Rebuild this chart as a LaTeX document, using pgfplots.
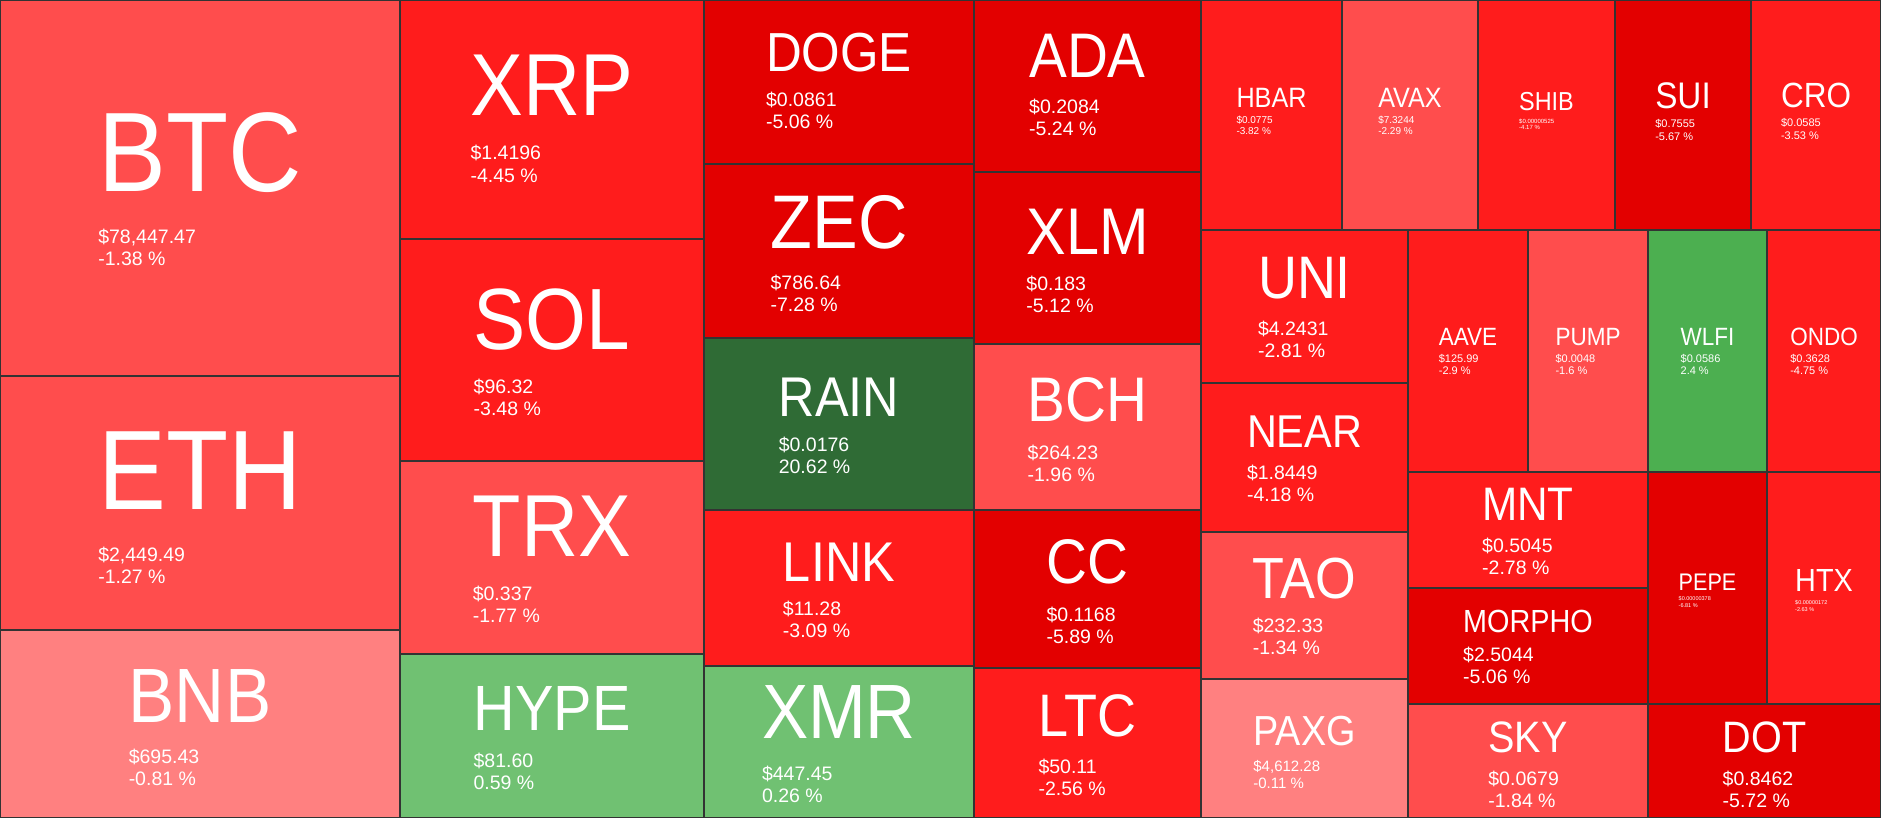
\documentclass[border=0pt]{standalone}
\usepackage{fontspec}
\setmainfont{Liberation Sans}
\newfontfamily\namefont{Liberation Sans}[FakeStretch=0.9]
\usepackage{pgfplots}
\pgfplotsset{compat=1.18}

\definecolor{edge}{HTML}{333333}
\definecolor{rLight}{HTML}{FF8080}
\definecolor{rMid}{HTML}{FF4D4D}
\definecolor{rStrong}{HTML}{FF1C1C}
\definecolor{rDeep}{HTML}{E30000}
\definecolor{gDark}{HTML}{2F6B35}
\definecolor{gLight}{HTML}{70C172}
\definecolor{gMid}{HTML}{4CAF50}

\pgfplotsset{tile/.style={fill=#1, draw=edge, line width=1.6pt}}

% cx yName yPrice yChange fsName fsSmall name price change
\newcommand{\tlnodes}[9]{%
  \node[anchor=base, inner sep=0pt, text=white, font=\namefont\fontsize{#5}{#5}\selectfont] (n#7) at (axis cs:#1,#2) {#7};
  \coordinate (p#7) at (axis cs:#1,#3);
  \coordinate (c#7) at (axis cs:#1,#4);
  \node[anchor=base west, inner sep=0pt, text=white, font=\fontsize{#6}{#6}\selectfont] at (n#7.west |- p#7) {#8};
  \node[anchor=base west, inner sep=0pt, text=white, font=\fontsize{#6}{#6}\selectfont] at (n#7.west |- c#7) {#9};
}
% cx cy fsName fsSmall gap name price change
\newcommand{\tl}[8]{%
  \pgfmathsetmacro\yN{#2-(0.716*#3+#5+1.846*#4)/2+0.716*#3}%
  \pgfmathsetmacro\yP{\yN+#5+0.716*#4}%
  \pgfmathsetmacro\yC{\yP+1.13*#4}%
  \edef\doit{\noexpand\tlnodes{#1}{\yN}{\yP}{\yC}{#3}{#4}{\unexpanded{#6}}{\unexpanded{#7}}{\unexpanded{#8}}}%
  \doit}

\begin{document}
\begin{tikzpicture}
\begin{axis}[
    width=1881pt, height=818pt, scale only axis,
    xmin=0, xmax=1881, ymin=0, ymax=818,
    y dir=reverse, hide axis,
]
% column 1
\addplot[tile=rMid] coordinates {(0,0)(400,0)(400,376)(0,376)} --cycle;
\addplot[tile=rMid] coordinates {(0,376)(400,376)(400,630)(0,630)} --cycle;
\addplot[tile=rLight] coordinates {(0,630)(400,630)(400,818)(0,818)} --cycle;
% column 2
\addplot[tile=rStrong] coordinates {(400,0)(704,0)(704,239)(400,239)} --cycle;
\addplot[tile=rStrong] coordinates {(400,239)(704,239)(704,461)(400,461)} --cycle;
\addplot[tile=rMid] coordinates {(400,461)(704,461)(704,654)(400,654)} --cycle;
\addplot[tile=gLight] coordinates {(400,654)(704,654)(704,818)(400,818)} --cycle;
% column 3
\addplot[tile=rDeep] coordinates {(704,0)(974,0)(974,164)(704,164)} --cycle;
\addplot[tile=rDeep] coordinates {(704,164)(974,164)(974,338)(704,338)} --cycle;
\addplot[tile=gDark] coordinates {(704,338)(974,338)(974,510)(704,510)} --cycle;
\addplot[tile=rStrong] coordinates {(704,510)(974,510)(974,666)(704,666)} --cycle;
\addplot[tile=gLight] coordinates {(704,666)(974,666)(974,818)(704,818)} --cycle;
% column 4
\addplot[tile=rDeep] coordinates {(974,0)(1201,0)(1201,172)(974,172)} --cycle;
\addplot[tile=rDeep] coordinates {(974,172)(1201,172)(1201,344)(974,344)} --cycle;
\addplot[tile=rMid] coordinates {(974,344)(1201,344)(1201,510)(974,510)} --cycle;
\addplot[tile=rDeep] coordinates {(974,510)(1201,510)(1201,668)(974,668)} --cycle;
\addplot[tile=rStrong] coordinates {(974,668)(1201,668)(1201,818)(974,818)} --cycle;
% top row right
\addplot[tile=rStrong] coordinates {(1201,0)(1342,0)(1342,230)(1201,230)} --cycle;
\addplot[tile=rMid] coordinates {(1342,0)(1478,0)(1478,230)(1342,230)} --cycle;
\addplot[tile=rStrong] coordinates {(1478,0)(1615,0)(1615,230)(1478,230)} --cycle;
\addplot[tile=rDeep] coordinates {(1615,0)(1751,0)(1751,230)(1615,230)} --cycle;
\addplot[tile=rStrong] coordinates {(1751,0)(1881,0)(1881,230)(1751,230)} --cycle;
% UNI column
\addplot[tile=rStrong] coordinates {(1201,230)(1408,230)(1408,383)(1201,383)} --cycle;
\addplot[tile=rStrong] coordinates {(1201,383)(1408,383)(1408,532)(1201,532)} --cycle;
\addplot[tile=rMid] coordinates {(1201,532)(1408,532)(1408,679)(1201,679)} --cycle;
\addplot[tile=rLight] coordinates {(1201,679)(1408,679)(1408,818)(1201,818)} --cycle;
% AAVE row
\addplot[tile=rStrong] coordinates {(1408,230)(1528,230)(1528,472)(1408,472)} --cycle;
\addplot[tile=rMid] coordinates {(1528,230)(1648,230)(1648,472)(1528,472)} --cycle;
\addplot[tile=gMid] coordinates {(1648,230)(1767,230)(1767,472)(1648,472)} --cycle;
\addplot[tile=rStrong] coordinates {(1767,230)(1881,230)(1881,472)(1767,472)} --cycle;
% lower right
\addplot[tile=rStrong] coordinates {(1408,472)(1648,472)(1648,588)(1408,588)} --cycle;
\addplot[tile=rDeep] coordinates {(1408,588)(1648,588)(1648,704)(1408,704)} --cycle;
\addplot[tile=rMid] coordinates {(1408,704)(1648,704)(1648,818)(1408,818)} --cycle;
\addplot[tile=rDeep] coordinates {(1648,472)(1767,472)(1767,704)(1648,704)} --cycle;
\addplot[tile=rStrong] coordinates {(1767,472)(1881,472)(1881,704)(1767,704)} --cycle;
\addplot[tile=rDeep] coordinates {(1648,704)(1881,704)(1881,818)(1648,818)} --cycle;

% labels
\tl{200}{188}{113}{19.5}{38}{BTC}{\$78,447.47}{-1.38 \%}
\tl{200}{506}{113}{19.5}{38}{ETH}{\$2,449.49}{-1.27 \%}
\tl{200}{726}{77}{19.5}{27}{BNB}{\$695.43}{-0.81 \%}
\tl{552}{117}{88}{19.5}{31}{XRP}{\$1.4196}{-4.45 \%}
\tl{552}{351}{87}{19.5}{30}{SOL}{\$96.32}{-3.48 \%}
\tl{552}{558}{88}{19.5}{30}{TRX}{\$0.337}{-1.77 \%}
\tl{552}{737}{64}{19.5}{23}{HYPE}{\$81.60}{0.59 \%}
\tl{839}{80}{55}{19.5}{21}{DOGE}{\$0.0861}{-5.06 \%}
\tl{839}{253}{76}{19.5}{27}{ZEC}{\$786.64}{-7.28 \%}
\tl{839}{425}{56}{19.5}{21}{RAIN}{\$0.0176}{20.62 \%}
\tl{839}{589}{56}{19.5}{20}{LINK}{\$11.28}{-3.09 \%}
\tl{839}{743}{77}{19.5}{28}{XMR}{\$447.45}{0.26 \%}
\tl{1087.5}{84}{63}{19.5}{22}{ADA}{\$0.2084}{-5.24 \%}
\tl{1087.5}{260}{66}{19.5}{22}{XLM}{\$0.183}{-5.12 \%}
\tl{1087.5}{429}{63}{19.5}{24}{BCH}{\$264.23}{-1.96 \%}
\tl{1087.5}{591}{63}{19.5}{24}{CC}{\$0.1168}{-5.89 \%}
\tl{1087.5}{745}{60}{19.5}{23}{LTC}{\$50.11}{-2.56 \%}
\tl{1271.5}{111}{28}{10}{9}{HBAR}{\$0.0775}{-3.82 \%}
\tl{1410}{111}{28}{10}{9}{AVAX}{\$7.3244}{-2.29 \%}
\tl{1546.5}{111}{26}{6}{8}{SHIB}{\$0.00000525}{-4.17 \%}
\tl{1683}{111}{37}{11}{12}{SUI}{\$0.7555}{-5.67 \%}
\tl{1816}{111}{35}{11}{11}{CRO}{\$0.0585}{-3.53 \%}
\tl{1304.5}{307}{60}{19.5}{23}{UNI}{\$4.2431}{-2.81 \%}
\tl{1304.5}{458}{46}{19.5}{18}{NEAR}{\$1.8449}{-4.18 \%}
\tl{1304.5}{606}{58}{19.5}{20}{TAO}{\$232.33}{-1.34 \%}
\tl{1304.5}{752}{42}{15}{15}{PAXG}{\$4,612.28}{-0.11 \%}
\tl{1468}{351}{25}{11}{9}{AAVE}{\$125.99}{-2.9 \%}
\tl{1588}{351}{25}{11}{9}{PUMP}{\$0.0048}{-1.6 \%}
\tl{1707.5}{351}{25}{11}{9}{WLFI}{\$0.0586}{2.4 \%}
\tl{1824}{351}{25}{11}{9}{ONDO}{\$0.3628}{-4.75 \%}
\tl{1528}{531}{47}{19.5}{18}{MNT}{\$0.5045}{-2.78 \%}
\tl{1528}{647}{32}{19.5}{15}{MORPHO}{\$2.5044}{-5.06 \%}
\tl{1528}{764}{44}{19.5}{19}{SKY}{\$0.0679}{-1.84 \%}
\tl{1707.5}{590}{24}{5.5}{7}{PEPE}{\$0.00000378}{-6.81 \%}
\tl{1824}{590}{32}{5.5}{9}{HTX}{\$0.00000172}{-2.63 \%}
\tl{1764.5}{764}{44}{19.5}{19}{DOT}{\$0.8462}{-5.72 \%}
\end{axis}
\end{tikzpicture}
\end{document}
